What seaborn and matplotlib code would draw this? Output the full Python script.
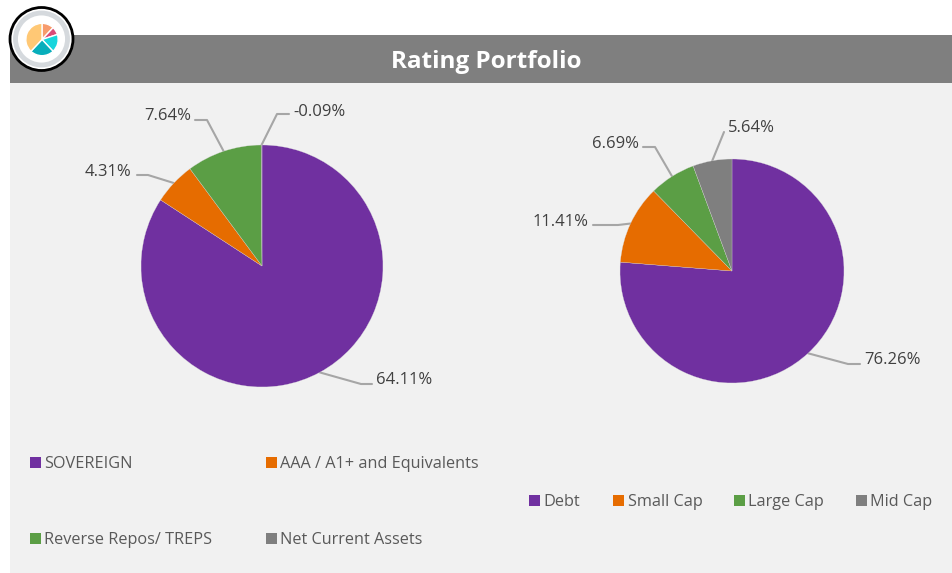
import seaborn as sns
import numpy as np
import matplotlib.pyplot as plt
from matplotlib.patches import Circle, Rectangle

W, H = 952, 573

# rating portfolio
rating_names = ["SOVEREIGN", "AAA / A1+ and Equivalents", "Reverse Repos/ TREPS", "Net Current Assets"]
rating_values = [64.11, 4.31, 7.64, -0.09]
# asset split
asset_names = ["Debt", "Small Cap", "Large Cap", "Mid Cap"]
asset_values = [76.26, 11.41, 6.69, 5.64]
# logo slices
logo_values = [12, 8, 18, 24, 38]

title = "Rating Portfolio"
colors = sns.color_palette(["#7030A0", "#E66C00", "#5B9E45", "#7F7F7F"])
logo_colors = ["#F79B6C", "#DB4B78", "#17D5DC", "#08AEBB", "#FFC875"]

sns.set_theme(style="white")
plt.rcParams['font.family'] = ['Open Sans', 'DejaVu Sans']

fig = plt.figure(figsize=(W / 100, H / 100), dpi=100, facecolor="white")
bg = fig.add_axes([0, 0, 1, 1])
bg.set_xlim(0, W)
bg.set_ylim(H, 0)
bg.axis("off")

bg.add_patch(Rectangle((10, 83), W - 10, H - 83, color="#F1F1F1", lw=0))
bg.add_patch(Rectangle((10, 35), W - 10, 48, color="#7F7F7F", lw=0))
bg.text(486, 61.5, title, color="white", fontsize=17.5, fontweight="bold", ha="center", va="center")


def pie_axes(cx, cy, r):
    ax = fig.add_axes([(cx - r) / W, 1 - (cy + r) / H, 2 * r / W, 2 * r / H])
    ax.set_aspect("equal")
    return ax


def draw_pie(values, cx, cy, r, label_pos, elbows):
    ax = pie_axes(cx, cy, r)
    wedges, _ = ax.pie(np.abs(values), colors=colors, startangle=90, counterclock=False,
                       radius=1, wedgeprops={"linewidth": 0.2, "edgecolor": "#D9D9D9"})
    ax.set_xlim(-1, 1)
    ax.set_ylim(-1, 1)
    for w, v, (tx, ty, ha), (ex, ey, lx) in zip(wedges, values, label_pos, elbows):
        ang = np.radians((w.theta1 + w.theta2) / 2)
        x0 = cx + r * np.cos(ang)
        y0 = cy - r * np.sin(ang)
        bg.plot([x0, ex, lx], [y0, ey, ey], color="#A6A6A6", lw=1.5, zorder=5)
        bg.text(tx, ty, "{:.2f}%".format(v), color="#404040", fontsize=12,
                ha=ha, va="center", zorder=6)


# label anchor (x, y, align), leader elbow (x, y, end x)
draw_pie(rating_values, 262, 266, 121,
         [(376, 380, "left"), (131, 171.5, "right"), (191, 116, "right"), (293, 111.5, "left")],
         [(361, 384, 372), (148, 175, 137), (207, 120, 195), (277, 114, 289)])
draw_pie(asset_values, 732, 271, 112,
         [(864, 360, "left"), (589, 221.5, "right"), (639, 143.5, "right"), (728, 128.5, "left")],
         [(848, 364, 860), (618, 225, 593), (655, 147, 643), (724, 132, 724)])


def legend_item(x, y, color, text):
    bg.add_patch(Rectangle((x, y - 5.5), 11, 11, color=color, lw=0))
    bg.text(x + 14.5, y + 1.5, text, color="#595959", fontsize=11.7, ha="left", va="center")


for (x, y), c, name in zip([(30, 462), (266, 462), (30, 538), (266, 538)], colors, rating_names):
    legend_item(x, y, c, name)
for x, c, name in zip([529, 613, 734, 856], colors, asset_names):
    legend_item(x, 500, c, name)

# logo badge
bg.add_patch(Circle((41.5, 39), 31.5, facecolor="white", edgecolor="black", lw=2, zorder=7))
bg.add_patch(Circle((41.5, 39), 26, facecolor="white", edgecolor="#D5D9DD", lw=3.5, zorder=7))
logo = pie_axes(42, 39.5, 17)
logo.set_zorder(8)
logo.pie(logo_values, colors=logo_colors, startangle=90, counterclock=False,
         wedgeprops={"linewidth": 1, "edgecolor": "white"})
logo.set_xlim(-1.05, 1.05)
logo.set_ylim(-1.05, 1.05)

plt.savefig("out.png", dpi=100)
